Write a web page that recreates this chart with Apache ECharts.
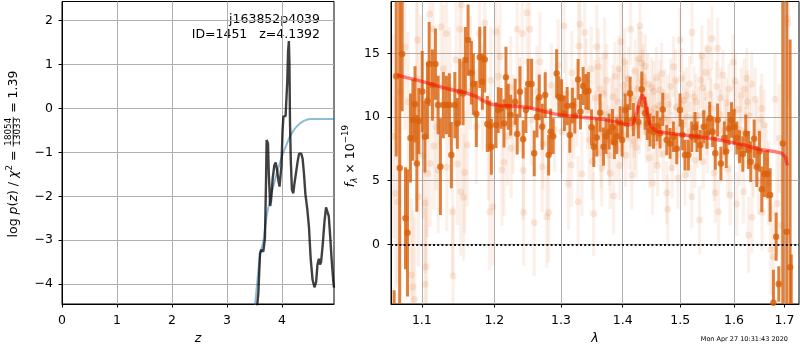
<!DOCTYPE html>
<html>
<head>
<meta charset="utf-8">
<script src="https://cdn.jsdelivr.net/npm/echarts@6/dist/echarts.min.js"></script>
<style>
  html, body { margin: 0; padding: 0; background: #fff; }
  #chart { width: 800px; height: 350px; }
</style>
</head>
<body>
<div id="chart"></div>
<script>
// ---- redshift probability panel ----
const zTicks = [0, 1, 2, 3, 4];
const logpTicks = [-4, -3, -2, -1, 0, 1, 2];
const pzZ = [3.54,3.57,3.60,3.62,3.66,3.69,3.71,3.72,3.745,3.76,3.785,3.80,3.83,3.86,3.885,3.91,3.935,3.955,3.975,3.99,
  4.01,4.025,4.045,4.065,4.08,4.095,4.11,4.125,4.135,4.145,4.16,4.18,4.205,4.225,4.255,4.285,4.31,4.35,4.375,4.40,
  4.425,4.46,4.49,4.52,4.555,4.59,4.62,4.645,4.67,4.69,4.71,4.74,4.77,4.80,4.825,4.85,4.875,4.90,4.93,4.945];
const pzLog = [-4.6,-4.2,-3.3,-3.22,-3.26,-2.95,-1.6,-0.72,-0.8,-1.5,-2.22,-2.1,-1.6,-1.3,-1.23,-1.4,-1.65,-1.78,-1.75,-1.3,
  -0.5,-0.19,-0.2,-0.17,-0.15,0.6,1.3,1.53,1.0,-0.3,-1.2,-1.85,-1.93,-1.72,-1.68,-1.2,-1.03,-1.03,-1.15,-1.5,
  -1.95,-2.3,-2.7,-3.4,-3.9,-4.07,-3.95,-3.55,-3.42,-3.55,-3.5,-3.1,-2.6,-2.25,-2.22,-2.45,-2.9,-3.4,-3.9,-4.08];
const cumZ = [3.50,3.55,3.60,3.66,3.72,3.78,3.84,3.90,3.96,4.02,4.08,4.145,4.21,4.27,4.33,4.39,4.45,4.51,4.60,4.945];
const cumLog = [-4.6,-3.95,-3.35,-3.02,-2.45,-2.1,-1.78,-1.5,-1.25,-1.02,-0.83,-0.64,-0.5,-0.41,-0.34,-0.29,-0.26,-0.245,-0.24,-0.24];

// ---- spectrum panel ----
const waveTicks = [1.1, 1.2, 1.3, 1.4, 1.5, 1.6, 1.7];
const fluxTicks = [0, 5, 10, 15];

// binned spectrum
const darkWave = [1.064,1.0667,1.0711,1.0743,1.0786,1.0812,1.0851,1.0882,1.0910,1.0934,
  1.0960,1.1005,1.1040,1.1074,1.1097,1.1141,1.1181,1.1217,1.1248,1.1288,
  1.1329,1.1370,1.1397,1.1444,1.1479,1.1512,1.1558,1.1590,1.1628,1.1674,
  1.1702,1.1744,1.1792,1.1829,1.1863,1.1900,1.1934,1.1957,
  1.2024,1.2057,1.2097,1.2140,1.2169,1.2203,1.2238,1.2304,1.2334,1.2375,
  1.2423,1.2464,1.2498,1.2549,1.2589,1.2630,1.2665,1.2710,1.2756,1.2808,
  1.2839,1.2879,1.2932,1.2967,1.3009,1.3053,1.3097,1.3139,1.3179,1.3218,
  1.3270,1.3308,1.3350,1.3393,1.3436,1.3485,1.3522,
  1.3571,1.3625,1.3681,1.3723,1.3773,1.3829,1.3860,1.3900,1.3956,1.3990,
  1.4040,1.4080,1.4124,1.4180,1.4266,1.4324,1.4380,1.4420,1.4467,1.4526,
  1.4590,1.4642,1.4689,1.4760,1.4819,1.4879,1.4938,1.4997,1.5040,1.5087,
  1.5149,1.5209,1.5269,
  1.5306,1.5368,1.5429,1.5490,1.5540,1.5596,1.5646,1.5689,1.5751,1.5815,
  1.5853,1.5902,1.5954,1.6005,1.6055,1.6108,1.6171,1.6229,1.6282,1.6326,
  1.6393,1.6445,1.6498,1.6544,1.6597,1.6657,1.6711,1.6777,1.6832,1.6885,
  1.6966,1.7047,1.7116,1.7140];
const darkFlux = [-6.2,13.2,6.0,14.95,2.05,0.9,8.35,9.77,11.0,6.36,
  9.69,12.0,8.45,11.28,14.16,12.51,14.16,10.94,6.1,10.94,
  10.94,10.94,7.01,10.94,9.5,11.99,11.86,14.48,16.05,13.48,
  12.59,10.24,14.69,12.77,14.53,9.45,9.3,7.67,
  9.37,10.55,10.68,9.5,13.12,10.81,10.16,11.2,8.66,11.99,
  8.25,10.55,12.59,12.59,7.15,10.0,11.55,9.24,11.73,7.01,
  8.85,8.5,13.43,11.6,11.47,10.3,10.86,8.59,10.9,10.1,
  12.96,10.42,12.44,11.99,12.05,9.19,7.67,
  8.4,10.34,7.67,8.5,8.85,9.24,8.0,8.5,9.55,8.2,
  10.55,9.7,11.86,9.8,9.61,12.18,10.3,9.5,8.98,8.8,
  9.3,8.72,10.6,8.19,7.93,8.45,7.5,10.55,8.6,7.01,
  7.01,8.45,9.19,
  8.45,7.79,9.24,8.7,9.9,8.85,7.15,9.77,6.36,8.35,
  7.3,9.1,9.77,9.24,8.35,7.67,7.1,8.7,7.41,6.49,
  8.3,6.1,7.3,4.32,5.52,5.52,3.87,-4.6,0.6,-3.12,
  7.93,0.99,-1.81,-5.5];
const darkErr = [2.6,6.3,14,4.5,4.0,5.0,3.5,3.2,3.0,3.8,
  2.6,3.2,2.8,3.0,3.3,2.8,2.8,2.3,3.8,2.6,
  2.3,2.5,2.6,2.6,2.0,2.6,2.5,2.6,2.8,2.5,
  2.4,2.6,2.4,2.2,2.6,2.2,2.0,2.2,
  1.8,1.8,1.6,1.9,2.4,1.8,1.6,1.8,1.6,2.0,
  1.5,1.8,2.0,2.0,1.8,1.6,1.8,1.8,1.8,1.6,
  1.8,1.4,1.9,1.6,1.5,1.4,1.5,1.4,1.4,1.4,
  1.6,1.4,1.5,1.4,1.5,1.4,1.6,
  1.5,1.5,1.5,1.4,1.4,1.4,1.3,1.4,1.3,1.3,
  1.3,1.3,1.3,1.3,1.3,1.4,1.3,1.3,1.3,1.3,
  1.2,1.2,1.3,1.2,1.2,1.2,1.2,1.3,1.2,1.2,
  1.2,1.2,1.2,
  1.2,1.2,1.3,1.2,1.3,1.2,1.3,1.3,1.3,1.3,
  1.3,1.3,1.4,1.4,1.3,1.3,1.4,1.5,1.5,1.6,
  1.5,1.6,1.6,1.8,1.8,1.9,2.1,2.6,1.9,1.4,
  12.6,20,17.9,4.7];

// individual exposures
const faintWave = [1.063,1.066,1.069,1.072,1.078,1.082,1.0862,1.0882,1.0905,1.093,
  1.0942,1.0955,1.0985,1.1015,1.104,1.1045,1.106,1.1074,1.1104,1.111,
  1.1146,1.116,1.1189,1.1217,1.1256,1.129,1.1329,1.1335,1.1375,1.1411,
  1.142,1.146,1.1479,1.1512,1.1525,1.1535,1.1566,1.158,1.1617,1.166,
  1.1744,1.1785,1.183,1.1863,1.1913,1.1934,1.195,
  1.198,1.2024,1.206,1.2082,1.211,1.214,1.219,1.2238,1.2245,1.2276,
  1.2334,1.237,1.241,1.2423,1.243,1.248,1.252,1.255,1.2589,1.263,
  1.2675,1.271,1.272,1.276,1.278,1.2808,1.285,1.29,1.2956,1.3012,
  1.3047,1.308,1.3115,1.3162,1.317,1.32,1.325,1.327,1.328,1.33,
  1.333,1.3376,1.34,1.342,1.3452,1.348,
  1.35,1.352,1.3545,1.3571,1.3595,1.361,1.364,1.3652,1.368,1.37,
  1.3735,1.376,1.379,1.381,1.3846,1.387,1.39,1.3925,1.395,1.3972,
  1.399,1.401,1.4029,1.405,1.407,1.4095,1.411,1.4135,1.4153,1.417,
  1.419,1.421,1.423,1.425,1.427,1.4293,1.431,1.4324,1.4345,1.4365,
  1.4385,1.4405,1.443,1.4455,1.448,1.4512,1.453,1.4555,1.458,1.46,
  1.4625,1.465,1.4671,1.47,1.473,1.476,1.4777,1.48,1.483,1.4855,
  1.4879,1.4905,1.493,1.496,1.4997,1.5026,1.505,1.5087,1.511,1.514,
  1.517,1.5209,1.5215,1.524,1.5265,
  1.529,1.532,1.5354,1.5375,1.5396,1.542,1.5445,1.547,1.55,1.552,
  1.555,1.5582,1.56,1.5625,1.5646,1.567,1.5689,1.5707,1.573,1.576,
  1.579,1.582,1.585,1.588,1.5905,1.5928,1.5955,1.5985,1.6024,1.6055,
  1.608,1.611,1.614,1.6185,1.6199,1.622,1.6248,1.6282,1.63,1.6346,
  1.635,1.638,1.6413,1.645,1.648,1.652,1.6544,1.655,1.6591,1.663,
  1.668,1.6723,1.6777,1.6811,1.685,1.6894,1.694,1.7068,1.7075,
  1.3555,1.3625,1.3665,1.3715,1.3775,1.3835,1.3885,1.3935,1.4005,1.4060,
  1.4145,1.4200,1.4245,1.4280,1.4335,1.4395,1.4445,1.4495,1.4545,1.4590,
  1.4640,1.4715,1.4785,1.4845,1.4915,1.4975,1.5065,1.5125,1.5190,1.5250,
  1.5335,1.5410,1.5485,1.5565,1.5655,1.5745,1.5870,1.6000,1.6130,1.6260];
const faintFlux = [8.5,4.0,3.35,12.0,15.5,11.2,-2.41,-3.33,-4.32,13.0,
  16.05,3.74,12.5,7.0,3.22,-3.14,-1.76,5.58,18.09,6.36,
  16.89,7.72,9.24,5.84,17.1,13.8,16.57,6.05,12.3,2.56,
  -2.49,14.5,6.31,16.9,4.13,18.8,3.7,5.65,7.8,13.5,
  9.24,16.57,11.5,17.4,7.67,2.56,12.9,
  2.95,16.7,13.2,14.74,5.84,6.44,8.5,12.33,7.54,9.45,
  16.9,11.0,16.57,5.8,2.51,18.2,16.9,9.8,1.7,12.0,
  14.34,6.1,7.93,10.5,2.17,2.5,12.5,9.0,14.08,8.85,
  17.15,11.8,4.74,6.23,13.48,9.8,11.0,3.35,15.58,17.3,
  5.52,16.65,12.9,10.6,8.19,13.8,
  6.5,2.4,11.5,15.52,13.95,9.0,7.2,5.97,11.8,14.8,
  12.9,8.2,5.58,10.4,3.79,13.2,7.5,11.2,6.2,15.92,
  9.8,12.5,14.34,7.0,10.8,13.0,8.4,16.89,5.44,11.5,
  9.2,13.6,7.6,12.2,14.6,17.15,10.5,14.22,13.2,11.0,
  14.0,8.8,12.6,6.8,10.4,4.79,12.0,8.0,13.1,6.2,
  10.9,9.0,13.43,7.1,11.6,4.05,2.75,9.7,12.4,6.0,
  13.95,8.6,10.8,5.2,16.05,13.04,9.4,5.44,11.7,7.4,
  12.6,3.74,16.65,9.9,6.6,
  11.2,8.2,1.91,12.9,14.79,6.5,10.3,13.5,7.8,15.32,
  11.8,16.18,9.6,5.6,4.05,12.4,15.4,2.56,10.2,7.0,
  13.3,8.9,11.1,5.9,12.2,3.87,9.3,14.3,12.85,3.17,
  10.6,6.8,11.7,4.13,12.18,8.4,13.04,0.73,10.1,12.59,
  2.12,6.2,11.39,8.8,5.0,9.8,10.68,2.51,9.37,6.5,
  4.8,-0.39,-0.97,11.39,3.2,8.33,1.5,17.75,17.36,
  9.5,12.2,8.8,10.2,7.0,11.6,9.9,13.8,8.6,11.9,
  10.0,8.1,11.0,9.4,12.8,10.6,9.6,12.3,10.7,8.6,
  12.1,9.9,11.0,8.1,12.9,9.1,11.3,10.0,8.9,11.6,
  10.1,12.3,9.3,10.7,8.5,11.5,9.6,10.4,9.0,11.2];
const faintErr = [8.0,7.5,6.5,7.0,6.5,5.5,6.0,6.0,6.5,6.0,
  5.5,5.5,5.5,5.0,5.5,6.0,5.5,5.0,5.5,5.0,
  5.0,5.0,5.0,5.0,5.0,5.0,5.0,5.0,4.8,5.0,
  5.5,4.8,4.8,4.8,5.0,5.0,5.0,4.8,4.8,4.5,
  4.5,4.5,4.2,4.5,4.2,4.6,4.2,
  4.6,4.4,4.0,4.2,4.4,4.2,3.9,4.0,3.9,3.9,
  4.2,3.7,4.0,3.9,4.2,4.2,4.0,3.6,4.2,3.6,
  3.9,3.6,3.6,3.3,4.0,3.9,3.3,3.3,3.6,3.3,
  3.7,3.3,3.6,3.3,3.3,3.1,3.3,3.6,3.6,3.7,
  3.3,3.6,3.3,3.1,3.1,3.3,
  3.0,3.3,3.0,3.3,3.0,2.8,2.8,3.0,2.8,3.0,
  2.8,2.7,2.8,2.7,3.0,2.7,2.5,2.7,2.7,3.0,
  2.5,2.5,2.7,2.5,2.5,2.5,2.5,2.8,2.7,2.5,
  2.4,2.5,2.4,2.5,2.5,2.8,2.4,2.5,2.5,2.4,
  2.5,2.4,2.4,2.4,2.4,2.5,2.4,2.4,2.4,2.4,
  2.2,2.2,2.4,2.2,2.2,2.5,2.7,2.2,2.2,2.4,
  2.4,2.2,2.2,2.4,2.5,2.4,2.2,2.4,2.2,2.2,
  2.2,2.5,2.5,2.2,2.2,
  2.2,2.2,2.7,2.2,2.4,2.2,2.0,2.2,2.2,2.4,
  2.0,2.5,2.0,2.2,2.4,2.0,2.4,2.5,2.0,2.2,
  2.0,2.0,2.0,2.2,2.0,2.4,2.0,2.2,2.2,2.5,
  2.2,2.2,2.2,2.5,2.4,2.4,2.4,3.0,2.4,2.5,
  2.8,2.5,2.5,2.5,2.7,2.7,2.7,3.0,2.8,3.0,
  3.3,3.6,4.0,3.6,4.0,4.3,5.0,6.5,6.5,
  2.6,2.5,2.4,2.5,2.4,2.5,2.4,2.6,2.4,2.5,
  2.4,2.3,2.4,2.3,2.5,2.4,2.3,2.4,2.3,2.3,
  2.4,2.3,2.3,2.3,2.4,2.3,2.3,2.3,2.3,2.4,
  2.3,2.4,2.3,2.3,2.3,2.4,2.3,2.4,2.4,2.5];

// best-fit template
const modelWave = [1.068,1.08,1.1,1.12,1.14,1.16,1.175,1.185,1.195,1.21,1.23,1.25,1.27,1.29,1.31,1.33,1.35,1.37,1.39,1.41,
  1.418,1.424,1.429,1.4335,1.437,1.441,1.446,1.452,1.46,1.48,1.5,1.53,1.56,1.59,1.62,1.65,1.68,1.695,1.702,1.706];
const modelFlux = [13.3,13.1,12.8,12.45,12.15,11.9,11.6,11.25,11.0,10.9,10.85,10.75,10.5,10.25,10.1,10.0,9.9,9.8,9.6,9.37,
  9.5,10.4,11.3,11.75,11.4,10.5,9.5,9.1,8.85,8.72,8.62,8.48,8.3,8.05,7.8,7.45,7.3,7.15,6.85,6.2];

// ---- styling ----
const FONT = '"DejaVu Sans"';
const ORANGE = '217,96,10';
const tickText = { fontFamily: FONT, fontSize: 12.5, color: '#000' };
const minusFmt = v => (v < 0 ? '\u2212' + Math.abs(v) : String(v));

function axis(gridIndex, type, min, max, ticks, fmt, margin, extra) {
  return Object.assign({
    type, gridIndex, min, max,
    axisLine: { show: true, onZero: false, lineStyle: { color: '#000', width: 1 } },
    axisTick: { show: true, inside: false, length: 3.5, lineStyle: { color: '#000', width: 1 }, customValues: ticks },
    axisLabel: Object.assign({ customValues: ticks, formatter: fmt, margin, hideOverlap: false }, tickText),
    splitLine: { show: true, lineStyle: { color: '#b0b0b0', width: 1 } },
    minorTick: { show: false }, minorSplitLine: { show: false }
  }, extra || {});
}

function errorBars(color, width) {
  return function (params, api) {
    const x = api.value(0), y = api.value(1), e = api.value(2);
    const top = api.coord([x, y + e]);
    const bot = api.coord([x, y - e]);
    return {
      type: 'line', silent: true,
      shape: { x1: top[0], y1: top[1], x2: bot[0], y2: bot[1] },
      style: { stroke: color, lineWidth: width }
    };
  };
}

// rotated label built from pieces (plain, italic, scripts, stacked fraction)
const ctx2d = document.createElement('canvas').getContext('2d');
const fontOf = (size, italic) => (italic ? 'italic ' : '') + size + 'px ' + FONT;
function widthOf(text, size, italic) { ctx2d.font = fontOf(size, italic); return ctx2d.measureText(text).width; }
function piece(text, x, y, size, italic, align) {
  return { type: 'text', x, y, silent: true,
    style: { text, font: fontOf(size, italic), fill: '#000', align, verticalAlign: 'middle',
             textAlign: align, textVerticalAlign: 'middle' } };
}
function rotatedLabel(parts, cx, cy) {
  const widths = parts.map(p => p.num
    ? Math.max(widthOf(p.num, p.size), widthOf(p.den, p.size)) + 2
    : widthOf(p.text, p.size || 12.5, p.italic));
  const total = widths.reduce((a, b) => a + b, 0);
  let x = -total / 2;
  const children = [];
  parts.forEach((p, i) => {
    const w = widths[i];
    if (p.num) {
      children.push(piece(p.num, x + w / 2, p.numDy, p.size, false, 'center'));
      children.push(piece(p.den, x + w / 2, p.denDy, p.size, false, 'center'));
      children.push({ type: 'line', silent: true, shape: { x1: x, y1: p.ruleDy, x2: x + w, y2: p.ruleDy },
                      style: { stroke: '#000', lineWidth: 0.8 } });
    } else {
      children.push(piece(p.text, x, p.dy || 0, p.size || 12.5, p.italic, 'left'));
    }
    x += w;
  });
  return { type: 'group', x: cx, y: cy, rotation: Math.PI / 2, children };
}

const chart = echarts.init(document.getElementById('chart'), null, { renderer: 'canvas' });

const option = {
  animation: false,
  backgroundColor: '#fff',
  grid: [
    { left: 62, top: 1.5, width: 272, height: 302.5, show: true, borderColor: '#000', borderWidth: 1 },
    { left: 391, top: 1.5, width: 408, height: 302.5, show: true, borderColor: '#000', borderWidth: 1 }
  ],
  xAxis: [
    axis(0, 'value', 0, 4.945, zTicks, v => String(v), 10, {
      name: 'z', nameLocation: 'middle', nameGap: 27,
      nameTextStyle: { fontFamily: FONT, fontSize: 12.5, fontStyle: 'italic', color: '#000' }
    }),
    axis(1, 'log', 1.06, 1.73, waveTicks, v => Number(v).toFixed(1), 10, {
      logBase: 10,
      name: '\u03bb', nameLocation: 'middle', nameGap: 27,
      nameTextStyle: { fontFamily: FONT, fontSize: 12.5, fontStyle: 'italic', color: '#000' }
    })
  ],
  yAxis: [
    axis(0, 'value', -4.45, 2.43, logpTicks, minusFmt, 9),
    axis(1, 'value', -4.69, 19.08, fluxTicks, minusFmt, 11)
  ],
  series: [
    {
      name: 'log p(z)', type: 'line', xAxisIndex: 0, yAxisIndex: 0,
      data: pzZ.map((z, i) => [z, pzLog[i]]),
      showSymbol: false, clip: true, z: 3,
      lineStyle: { color: 'rgba(0,0,0,0.75)', width: 2.4 }
    },
    {
      name: 'cumulative', type: 'line', xAxisIndex: 0, yAxisIndex: 0,
      data: cumZ.map((z, i) => [z, cumLog[i]]),
      showSymbol: false, clip: true, smooth: 0.3, z: 2,
      lineStyle: { color: 'rgba(31,119,180,0.5)', width: 2 }
    },
    {
      name: 'exposure errors', type: 'custom', xAxisIndex: 1, yAxisIndex: 1, clip: true, z: 2,
      renderItem: errorBars('rgba(' + ORANGE + ',0.085)', 3.3),
      encode: { x: 0, y: 1 },
      data: faintWave.map((w, i) => [w, faintFlux[i], faintErr[i]])
    },
    {
      name: 'exposures', type: 'scatter', xAxisIndex: 1, yAxisIndex: 1, clip: true, z: 2,
      symbol: 'circle', symbolSize: 7,
      itemStyle: { color: 'rgba(' + ORANGE + ',0.16)' },
      data: faintWave.map((w, i) => [w, faintFlux[i]])
    },
    {
      name: 'binned errors', type: 'custom', xAxisIndex: 1, yAxisIndex: 1, clip: true, z: 3,
      renderItem: errorBars('rgba(' + ORANGE + ',0.8)', 3),
      encode: { x: 0, y: 1 },
      data: darkWave.map((w, i) => [w, darkFlux[i], darkErr[i]])
    },
    {
      name: 'binned', type: 'scatter', xAxisIndex: 1, yAxisIndex: 1, clip: true, z: 4,
      symbol: 'circle', symbolSize: 6.5,
      itemStyle: { color: 'rgb(' + ORANGE + ')' },
      data: darkWave.map((w, i) => [w, darkFlux[i]])
    },
    {
      name: 'template', type: 'line', xAxisIndex: 1, yAxisIndex: 1, clip: true, z: 5,
      data: modelWave.map((w, i) => [w, modelFlux[i]]),
      showSymbol: false,
      lineStyle: { color: 'rgba(255,0,0,0.5)', width: 3.5 },
      markLine: {
        silent: true, symbol: ['none', 'none'], label: { show: false },
        lineStyle: { color: '#111', width: 1.8, type: [2, 2.2] },
        data: [{ yAxis: 0 }]
      }
    }
  ],
  graphic: [
    { type: 'text', x: 320, y: 20, silent: true,
      style: { text: 'j163852p4039', font: '12.5px ' + FONT, fill: '#000',
               align: 'right', verticalAlign: 'middle', textAlign: 'right', textVerticalAlign: 'middle' } },
    { type: 'text', x: 320, y: 34.5, silent: true,
      style: { text: 'ID=1451   z=4.1392', font: '12.5px ' + FONT, fill: '#000',
               align: 'right', verticalAlign: 'middle', textAlign: 'right', textVerticalAlign: 'middle' } },
    rotatedLabel([
      { text: 'log ' }, { text: 'p', italic: true }, { text: '(' }, { text: 'z', italic: true },
      { text: ') / ' }, { text: '\u03c7', italic: true }, { text: '2', size: 8.75, dy: -4.5 },
      { text: ' = ' },
      { num: '18054', den: '13033', size: 8.75, numDy: -5, denDy: 4, ruleDy: -0.8 },
      { text: ' = 1.39' }
    ], 14, 154),
    rotatedLabel([
      { text: 'f', italic: true }, { text: '\u03bb', italic: true, size: 8.75, dy: 3.5 },
      { text: ' \u00d7 10' }, { text: '\u221219', size: 8.75, dy: -5 }
    ], 351, 156),
    { type: 'text', x: 788, y: 339, silent: true,
      style: { text: 'Mon Apr 27 10:31:43 2020', font: '6.5px ' + FONT, fill: '#000',
               align: 'right', verticalAlign: 'middle', textAlign: 'right', textVerticalAlign: 'middle' } }
  ]
};

chart.setOption(option);
</script>
</body>
</html>
